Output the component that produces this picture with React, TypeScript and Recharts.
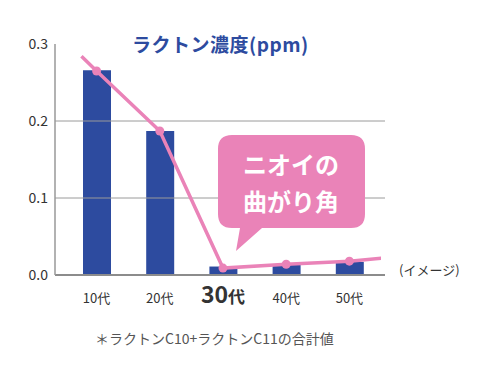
import React from 'react';
import { ComposedChart, Bar, Line, XAxis, YAxis, ReferenceLine } from 'recharts';

// ages on the x axis, lactone concentration (ppm) as bars
const ages = ['10代', '20代', '30代', '40代', '50代'];
const lactone = [0.266, 0.187, 0.011, 0.013, 0.017];

// trend line ("image"), drawn on a numeric axis that lines up with the bar bands,
// so it can run a little past the first and last bars
const trendX = [-0.24, 0, 1, 2, 3, 4, 4.54];
const trendY = [0.284, 0.265, 0.187, 0.009, 0.014, 0.018, 0.022];
const trendDot = [false, true, true, true, true, true, false];

const yTicks = [0, 0.1, 0.2, 0.3];
const gridValues = [0.1, 0.2];

const FONT = '"Noto Sans CJK JP", "Noto Sans", sans-serif';
const NAVY = '#2d4b9f';
const PINK = '#ea83b8';

const barData = ages.map((age, i) => ({ age, value: lactone[i] }));
const lineData = trendX.map((x, i) => ({ x, y: trendY[i], dot: trendDot[i] }));

const AgeTick = (props: any) => {
  const { x, y, payload } = props;
  const label: string = payload.value;
  const num = label.replace('代', '');
  const highlight = label === '30代';
  return (
    <text x={x} y={y + 20} textAnchor="middle" fontFamily={FONT} fill="#333">
      <tspan fontSize={highlight ? 23 : 13} fontWeight={highlight ? 700 : 400}>{num}</tspan>
      <tspan fontSize={highlight ? 17 : 13} fontWeight={highlight ? 700 : 400}>代</tspan>
    </text>
  );
};

const TrendDot = (props: any) => {
  const { cx, cy, payload, index } = props;
  if (!payload.dot) return <g key={index} />;
  return <circle key={index} cx={cx} cy={cy} r={4.5} fill={PINK} />;
};

export default function App() {
  return (
    <div style={{ position: 'absolute', left: 0, top: 0, width: 490, height: 368, background: '#fff' }}>
      <ComposedChart
        width={490}
        height={368}
        data={barData}
        margin={{ top: 44, right: 105, left: 0, bottom: 63 }}
      >
        <XAxis
          xAxisId="cat"
          dataKey="age"
          padding={{ left: 10, right: 4 }}
          stroke="#8c8c8c"
          strokeWidth={2}
          tickLine={false}
          tick={<AgeTick />}
          interval={0}
        />
        <XAxis
          xAxisId="num"
          dataKey="x"
          type="number"
          domain={[-0.5, 4.5]}
          padding={{ left: 10, right: 4 }}
          hide
          allowDataOverflow
        />
        <YAxis
          domain={[0, 0.3]}
          ticks={yTicks}
          width={55}
          stroke="#999"
          strokeWidth={1.5}
          tickLine={false}
          tickMargin={1}
          tickFormatter={(v: number) => v.toFixed(1)}
          tick={{ fontSize: 14, fill: '#333', fontFamily: FONT }}
        />
        {gridValues.map((v) => (
          <ReferenceLine key={v} y={v} xAxisId="cat" stroke="#9a9a9a" strokeWidth={1} />
        ))}
        <Bar
          xAxisId="cat"
          dataKey="value"
          fill={NAVY}
          barSize={28}
          isAnimationActive={false}
        />
        <Line
          xAxisId="num"
          data={lineData}
          dataKey="y"
          type="linear"
          stroke={PINK}
          strokeWidth={3.5}
          dot={<TrendDot />}
          activeDot={false}
          isAnimationActive={false}
        />
      </ComposedChart>

      <svg
        width={490}
        height={368}
        style={{ position: 'absolute', left: 0, top: 0, pointerEvents: 'none' }}
        fontFamily={FONT}
      >
        <text x={132} y={52} fontSize={19} fontWeight={600} fill={NAVY} letterSpacing={0.5}>
          ラクトン濃度(ppm)
        </text>
        <path
          d="M232,135 H351 Q365,135 365,149 V214 Q365,228 351,228 H262 L236,251 L240,228 H232 Q218,228 218,214 V149 Q218,135 232,135 Z"
          fill={PINK}
        />
        <text x={291} y={174} textAnchor="middle" fontSize={24} fontWeight={600} fill="#fff">
          ニオイの
        </text>
        <text x={291} y={211} textAnchor="middle" fontSize={24} fontWeight={600} fill="#fff">
          曲がり角
        </text>
        <text x={399} y={275} fontSize={13} fill="#333">
          (イメージ)
        </text>
        <text x={95} y={344} fontSize={14} fill="#555">
          ＊ラクトンC10+ラクトンC11の合計値
        </text>
      </svg>
    </div>
  );
}
